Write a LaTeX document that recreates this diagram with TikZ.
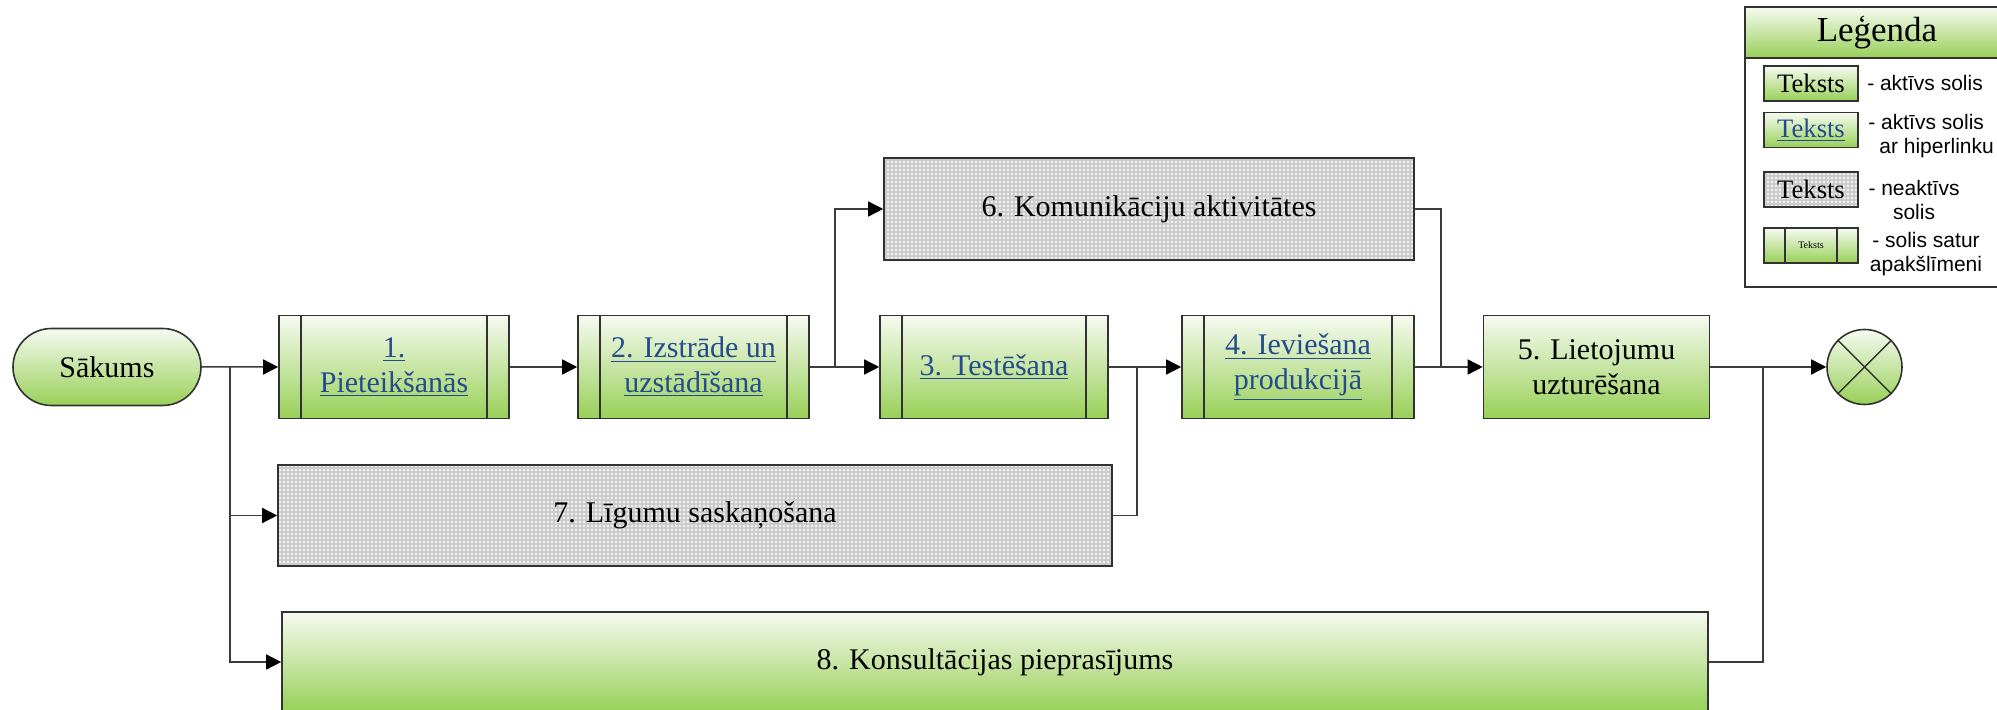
\documentclass[tikz,border=0pt]{standalone}
\usepackage{fontspec}
\setmainfont{Liberation Serif}
\newfontfamily\arialf{Liberation Sans}
\usetikzlibrary{arrows.meta,patterns,shapes.misc}
\pgfdeclarepatternformonly{mydots}{\pgfpoint{-1pt}{-1pt}}{\pgfpoint{1pt}{1pt}}{\pgfpoint{2pt}{2pt}}{\pgfpathcircle{\pgfpointorigin}{0.6pt}\pgfusepath{fill}}
\definecolor{gtop}{RGB}{246,250,240}
\definecolor{gbot}{RGB}{152,208,88}
\definecolor{linkc}{RGB}{36,76,140}
\definecolor{edgec}{RGB}{50,50,50}
\definecolor{linec}{RGB}{60,60,60}
\definecolor{greyf}{RGB}{204,204,204}
\newcommand{\lnk}[1]{\underline{#1}}
\begin{document}
\begin{tikzpicture}[x=0.5pt,y=-0.5pt,
  boxtext/.style={font=\fontsize{15}{17.5}\selectfont, align=center, inner sep=0pt},
  greenbox/.style={draw=edgec, line width=0.8pt, top color=gtop, bottom color=gbot, boxtext},
  greybox/.style={draw=edgec, line width=0.8pt, preaction={fill=greyf}, pattern=mydots, pattern color=white, boxtext},
  linktext/.style={text=linkc},
  rowbox/.style={minimum height=51.5pt},
  conn/.style={draw=linec, line width=0.75pt},
  arr/.style={conn, -{Triangle[length=7.5pt,width=7.5pt,color=black,fill=black]}},
  legtext/.style={font=\arialf\fontsize{10.5}{12}\selectfont, align=center, inner sep=0pt},
  legbox/.style={minimum width=47pt, minimum height=17.5pt, font=\fontsize{13.3}{15}\selectfont}
]
\useasboundingbox (0,0) rectangle (1997,710);
\clip (0,0) rectangle (1997,710);

% main nodes
\node[greenbox, shape=rounded rectangle, minimum width=94pt, minimum height=38.5pt] (start) at (107,367) {Sākums};
\node[greenbox, rowbox, linktext, minimum width=115pt] (b1) at (394,367) {\lnk{1.}\\\lnk{Pieteikšanās}};
\node[greenbox, rowbox, linktext, minimum width=115.5pt] (b2) at (693.5,367) {\lnk{2. Izstrāde un}\\\lnk{uzstādīšana}};
\node[greenbox, rowbox, linktext, minimum width=114pt] (b3) at (994,367) {\lnk{3. Testēšana}};
\node[greenbox, rowbox, linktext, minimum width=116pt] (b4) at (1298,367) {\lnk{4. Ieviešana}\\\lnk{produkcijā}};
\node[greenbox, rowbox, minimum width=113pt] (b5) at (1596.5,367) {5. Lietojumu\\uzturēšana};
\node[greybox, minimum width=265pt, minimum height=51pt] (b6) at (1149,209) {6. Komunikāciju aktivitātes};
\node[greybox, minimum width=417pt, minimum height=50.5pt] (b7) at (695,515.5) {7. Līgumu saskaņošana};
\node[greenbox, minimum width=713pt, minimum height=50pt] (b8) at (995,662) {8. Konsultācijas pieprasījums};
\node[greenbox, circle, minimum size=37.5pt] (end) at (1864.5,367) {};
\draw[edgec, line width=0.7pt] (end.north west) -- (end.south east) (end.north east) -- (end.south west);

% sub-level inner lines
\foreach \b in {b1,b2,b3,b4}{
  \draw[edgec, line width=0.8pt] ([xshift=11.5pt]\b.north west) -- ([xshift=11.5pt]\b.south west);
  \draw[edgec, line width=0.8pt] ([xshift=-11.5pt]\b.north east) -- ([xshift=-11.5pt]\b.south east);
}

% junctions
\coordinate (j1) at (230,367);
\coordinate (j2) at (835,367);
\coordinate (j3) at (1137,367);
\coordinate (j4) at (1441,367);
\coordinate (j5) at (1763,367);

% connectors
\draw[arr] (start) -- (b1);
\draw[arr] (j1) |- (b7.west);
\draw[arr] (j1) |- (b8.west);
\draw[arr] (b1) -- (b2);
\draw[arr] (b2) -- (b3);
\draw[arr] (j2) |- (b6.west);
\draw[arr] (b3) -- (b4);
\draw[conn] (b7.east) -| (j3);
\draw[arr] (b4) -- (b5);
\draw[conn] (b6.east) -| (j4);
\draw[arr] (b5) -- (end);
\draw[conn] (b8.east) -| (j5);

% legend
\path[fill=white, draw=edgec, line width=0.8pt] (1745,7) rectangle (2010,287);
\path[top color=gtop, bottom color=gbot, draw=edgec, line width=0.8pt] (1745,7) rectangle (2010,58);
\node[font=\fontsize{17.5}{19}\selectfont, inner sep=0pt] (legtitle) at (1877,33) {Leģenda};
\node[greenbox, legbox] (l1) at (1811,83.5) {Teksts};
\node[greenbox, legbox, linktext] (l2) at (1811,130) {\lnk{Teksts}};
\node[greybox, legbox] (l3) at (1811,189.5) {Teksts};
\node[greenbox, legbox, font=\fontsize{5}{6}\selectfont] (l4) at (1811,245.5) {Teksts};
\draw[edgec, line width=0.8pt] ([xshift=11pt]l4.north west) -- ([xshift=11pt]l4.south west);
\draw[edgec, line width=0.8pt] ([xshift=-11pt]l4.north east) -- ([xshift=-11pt]l4.south east);
\node[legtext] (d1) at (1925,83) {- aktīvs solis};
\node[legtext, align=left, anchor=west] (d2) at (1868,136) {- aktīvs solis\\\hspace*{5.5pt}ar hiperlinku};
\node[legtext] (d3) at (1914,199.5) {- neaktīvs\\solis};
\node[legtext] (d4) at (1926,254) {- solis satur\\apakšlīmeni};
\end{tikzpicture}
\end{document}
